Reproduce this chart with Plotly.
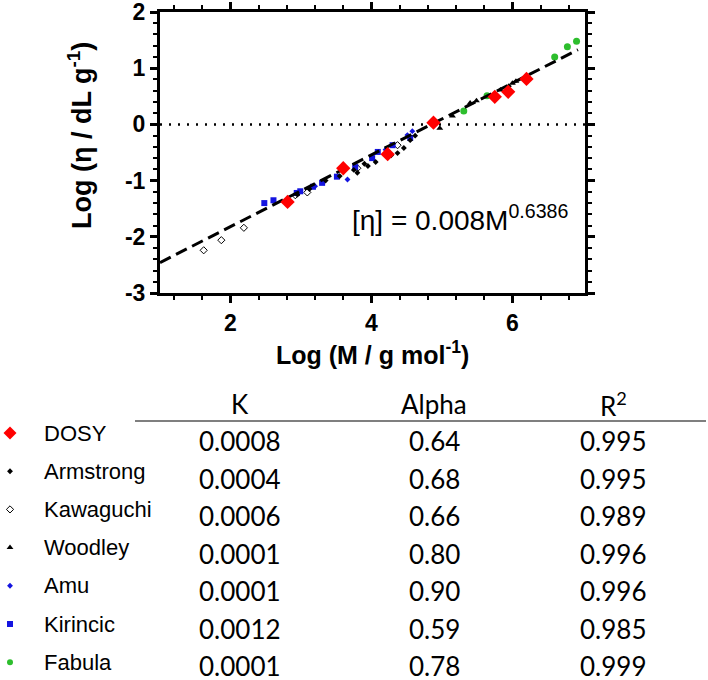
import math
import plotly.graph_objects as go

# ---------------- data ----------------
dosy_x = [2.81, 3.60, 4.23, 4.88, 5.75, 5.94, 6.20]
dosy_y = [-1.38, -0.78, -0.53, 0.03, 0.49, 0.58, 0.81]

armstrong_x = [2.95, 3.12, 3.35, 3.55, 3.75, 3.80, 3.90, 3.95, 4.06, 4.28, 4.37, 4.46, 4.55, 4.62, 5.95]
armstrong_y = [-1.25, -1.15, -1.00, -0.92, -0.81, -0.86, -0.70, -0.74, -0.67, -0.55, -0.51, -0.42, -0.28, -0.20, 0.68]

kawaguchi_x = [1.62, 1.87, 2.19, 2.92, 3.09, 3.80, 4.37]
kawaguchi_y = [-2.24, -2.06, -1.84, -1.26, -1.21, -0.78, -0.37]

woodley_x = [4.97, 5.15, 5.40, 5.49, 5.83, 6.00, 6.05]
woodley_y = [-0.07, 0.15, 0.38, 0.42, 0.61, 0.73, 0.77]

amu_x = [3.20, 3.66, 4.20, 4.51, 4.58]
amu_y = [-1.10, -0.98, -0.45, -0.19, -0.12]

kirincic_x = [2.48, 2.61, 2.94, 2.99, 3.17, 3.30, 3.51, 3.77, 4.01, 4.09, 4.30, 4.55]
kirincic_y = [-1.40, -1.35, -1.22, -1.19, -1.11, -1.04, -0.93, -0.76, -0.60, -0.49, -0.37, -0.24]

fabula_x = [5.31, 5.64, 6.60, 6.78, 6.91]
fabula_y = [0.24, 0.51, 1.20, 1.38, 1.48]

fit_K = 0.0008
fit_alpha = 0.6386
fit_x_ends = [1.0, 6.93]
equation_text = "[η] = 0.008M<sup>0.6386</sup>"

series_names = ["DOSY", "Armstrong", "Kawaguchi", "Woodley", "Amu", "Kirincic", "Fabula"]
k_values = ["0.0008", "0.0004", "0.0006", "0.0001", "0.0001", "0.0012", "0.0001"]
alpha_values = ["0.64", "0.68", "0.66", "0.80", "0.90", "0.59", "0.78"]
r2_values = ["0.995", "0.995", "0.989", "0.996", "0.996", "0.985", "0.999"]
table_headers = ["K", "Alpha", "R<sup>2</sup>"]

x_ticks = [2, 4, 6]
y_ticks = [-3, -2, -1, 0, 1, 2]

# ---------------- styles ----------------
W, H = 708, 680
RED = "#FF0000"
BLUE = "#1414E0"
GREEN = "#2DBE2D"
styles = {
    "DOSY": dict(symbol="diamond", color=RED, size=11, line=dict(width=0)),
    "Armstrong": dict(symbol="diamond", color="black", size=4.5, line=dict(width=0)),
    "Kawaguchi": dict(symbol="diamond-open", color="black", size=5.5, line=dict(width=1, color="black")),
    "Woodley": dict(symbol="triangle-up", color="black", size=6, line=dict(width=0)),
    "Amu": dict(symbol="diamond", color=BLUE, size=4.5, line=dict(width=0)),
    "Kirincic": dict(symbol="square", color=BLUE, size=6, line=dict(width=0)),
    "Fabula": dict(symbol="circle", color=GREEN, size=7, line=dict(width=0)),
}
series_data = {
    "DOSY": (dosy_x, dosy_y),
    "Armstrong": (armstrong_x, armstrong_y),
    "Kawaguchi": (kawaguchi_x, kawaguchi_y),
    "Woodley": (woodley_x, woodley_y),
    "Amu": (amu_x, amu_y),
    "Kirincic": (kirincic_x, kirincic_y),
    "Fabula": (fabula_x, fabula_y),
}

# plot area in pixels
PL, PR, PT, PB = 160, 585, 12, 293
X_RANGE = [1.0, 7.03]
Y_RANGE = [-3, 2]

fig = go.Figure()

draw_order = ["Kawaguchi", "Kirincic", "Amu", "Armstrong", "Woodley", "Fabula"]
for name in draw_order:
    xs, ys = series_data[name]
    fig.add_trace(go.Scatter(x=xs, y=ys, mode="markers", name=name,
                             marker=styles[name], showlegend=False,
                             xaxis="x", yaxis="y"))

# zero reference line (dotted)
fig.add_trace(go.Scatter(x=X_RANGE, y=[0, 0], mode="lines", showlegend=False,
                         line=dict(color="black", width=2.5, dash="2px,7px"),
                         xaxis="x", yaxis="y"))

# fit line
fit_y = [math.log10(fit_K) + fit_alpha * xv for xv in fit_x_ends]
fig.add_trace(go.Scatter(x=fit_x_ends, y=fit_y, mode="lines", showlegend=False,
                         line=dict(color="black", width=3, dash="12px,6px"),
                         xaxis="x", yaxis="y"))

xs, ys = series_data["DOSY"]
fig.add_trace(go.Scatter(x=xs, y=ys, mode="markers", name="DOSY",
                         marker=styles["DOSY"], showlegend=False,
                         xaxis="x", yaxis="y"))

# invisible trace so that the mirrored (top/right) axes get drawn
fig.add_trace(go.Scatter(x=[X_RANGE[0]], y=[Y_RANGE[0]], mode="markers",
                         marker=dict(opacity=0), showlegend=False, hoverinfo="skip",
                         xaxis="x3", yaxis="y3"))

# ---------------- table (pixel overlay axes) ----------------
row_label_y0, row_label_dy = 433, 38.2
row_num_y0, row_num_dy = 441, 37.5
legend_marker_size = {"DOSY": 10, "Armstrong": 4.5, "Kawaguchi": 5.5, "Woodley": 6,
                      "Amu": 4.5, "Kirincic": 6, "Fabula": 6}
for i, name in enumerate(series_names):
    st = dict(styles[name])
    st["size"] = legend_marker_size[name]
    fig.add_trace(go.Scatter(x=[10], y=[row_label_y0 + i * row_label_dy], mode="markers",
                             marker=st, showlegend=False, xaxis="x2", yaxis="y2",
                             hoverinfo="skip"))

annotations = []
LABEL_FONT = dict(family="Liberation Sans, Arial, sans-serif", size=22, color="black")
NUM_FONT = dict(family="Lato, Open Sans, sans-serif", size=26, color="black")
col_x = [240, 434, 613]
for j, htxt in enumerate(table_headers):
    annotations.append(dict(x=col_x[j], y=404, xref="x2", yref="y2", text=htxt,
                            showarrow=False, xanchor="center", yanchor="middle", font=NUM_FONT))
for i, name in enumerate(series_names):
    annotations.append(dict(x=42, y=row_label_y0 + i * row_label_dy, xref="x2", yref="y2",
                            text=name, showarrow=False, xanchor="left", yanchor="middle",
                            font=LABEL_FONT))
    for j, col in enumerate([k_values, alpha_values, r2_values]):
        annotations.append(dict(x=col_x[j], y=row_num_y0 + i * row_num_dy, xref="x2", yref="y2",
                                text=col[i], showarrow=False, xanchor="center",
                                yanchor="middle", font=NUM_FONT))

# axis titles and equation
TITLE_FONT = dict(family="Liberation Sans, Arial, sans-serif", size=25, color="black")
annotations.append(dict(x=372, y=353, xref="x2", yref="y2",
                        text="<b>Log (M / g mol<sup>-1</sup>)</b>", showarrow=False,
                        xanchor="center", yanchor="middle", font=TITLE_FONT))
annotations.append(dict(x=80, y=136, xref="x2", yref="y2", textangle=-90,
                        text="<b>Log (η / dL g<sup>-1</sup>)</b>", showarrow=False,
                        xanchor="center", yanchor="middle",
                        font=dict(TITLE_FONT, size=27)))
annotations.append(dict(x=460, y=218, xref="x2", yref="y2", text=equation_text,
                        showarrow=False, xanchor="center", yanchor="middle",
                        font=dict(family="Liberation Sans, Arial, sans-serif", size=28, color="black")))

shapes = [dict(type="line", xref="x2", yref="y2", x0=135, x1=706, y0=421, y1=421,
               line=dict(color="#555555", width=1.5))]

TICKFONT = dict(family="Liberation Sans, Arial, sans-serif", size=23, color="black")
axis_common = dict(showgrid=False, zeroline=False, showline=True, linewidth=3,
                   linecolor="black", mirror=False, ticks="outside", ticklen=7,
                   tickwidth=3, tickcolor="black", tickfont=TICKFONT,
                   automargin=False, ticklabeloverflow="allow", fixedrange=True)
x_minor = dict(dtick=0.4, tick0=0, ticks="outside", ticklen=4, tickwidth=2,
               tickcolor="black", showgrid=False)
y_minor = dict(dtick=0.2, tick0=0, ticks="outside", ticklen=4, tickwidth=2,
               tickcolor="black", showgrid=False)

fig.update_layout(
    width=W, height=H,
    margin=dict(l=0, r=0, t=0, b=0, autoexpand=False),
    paper_bgcolor="white", plot_bgcolor="rgba(0,0,0,0)",
    hovermode=False,
    xaxis=dict(axis_common, domain=[PL / W, PR / W], range=X_RANGE, anchor="y",
               tickvals=x_ticks, ticktext=["<b>%d</b>" % v for v in x_ticks], minor=x_minor),
    yaxis=dict(axis_common, domain=[(H - PB) / H, (H - PT) / H], range=Y_RANGE, anchor="x",
               tickvals=y_ticks, ticktext=["<b>%d</b>" % v for v in y_ticks], minor=y_minor),
    xaxis3=dict(axis_common, overlaying="x", side="top", anchor="y", range=X_RANGE,
                tickvals=x_ticks, showticklabels=False, minor=x_minor),
    yaxis3=dict(axis_common, overlaying="y", side="right", anchor="x", range=Y_RANGE,
                tickvals=y_ticks, showticklabels=False, minor=y_minor),
    xaxis2=dict(domain=[0, 1], range=[0, W], visible=False, anchor="y2", fixedrange=True),
    yaxis2=dict(domain=[0, 1], range=[H, 0], visible=False, anchor="x2", fixedrange=True),
    annotations=annotations,
    shapes=shapes,
)

# remove the browser's default 8px body margin so the figure sits at the page origin
fig.write_html("out.html",
               config={"displayModeBar": False, "staticPlot": True},
               post_script="document.body.style.margin='0px';document.body.style.overflow='hidden';")
